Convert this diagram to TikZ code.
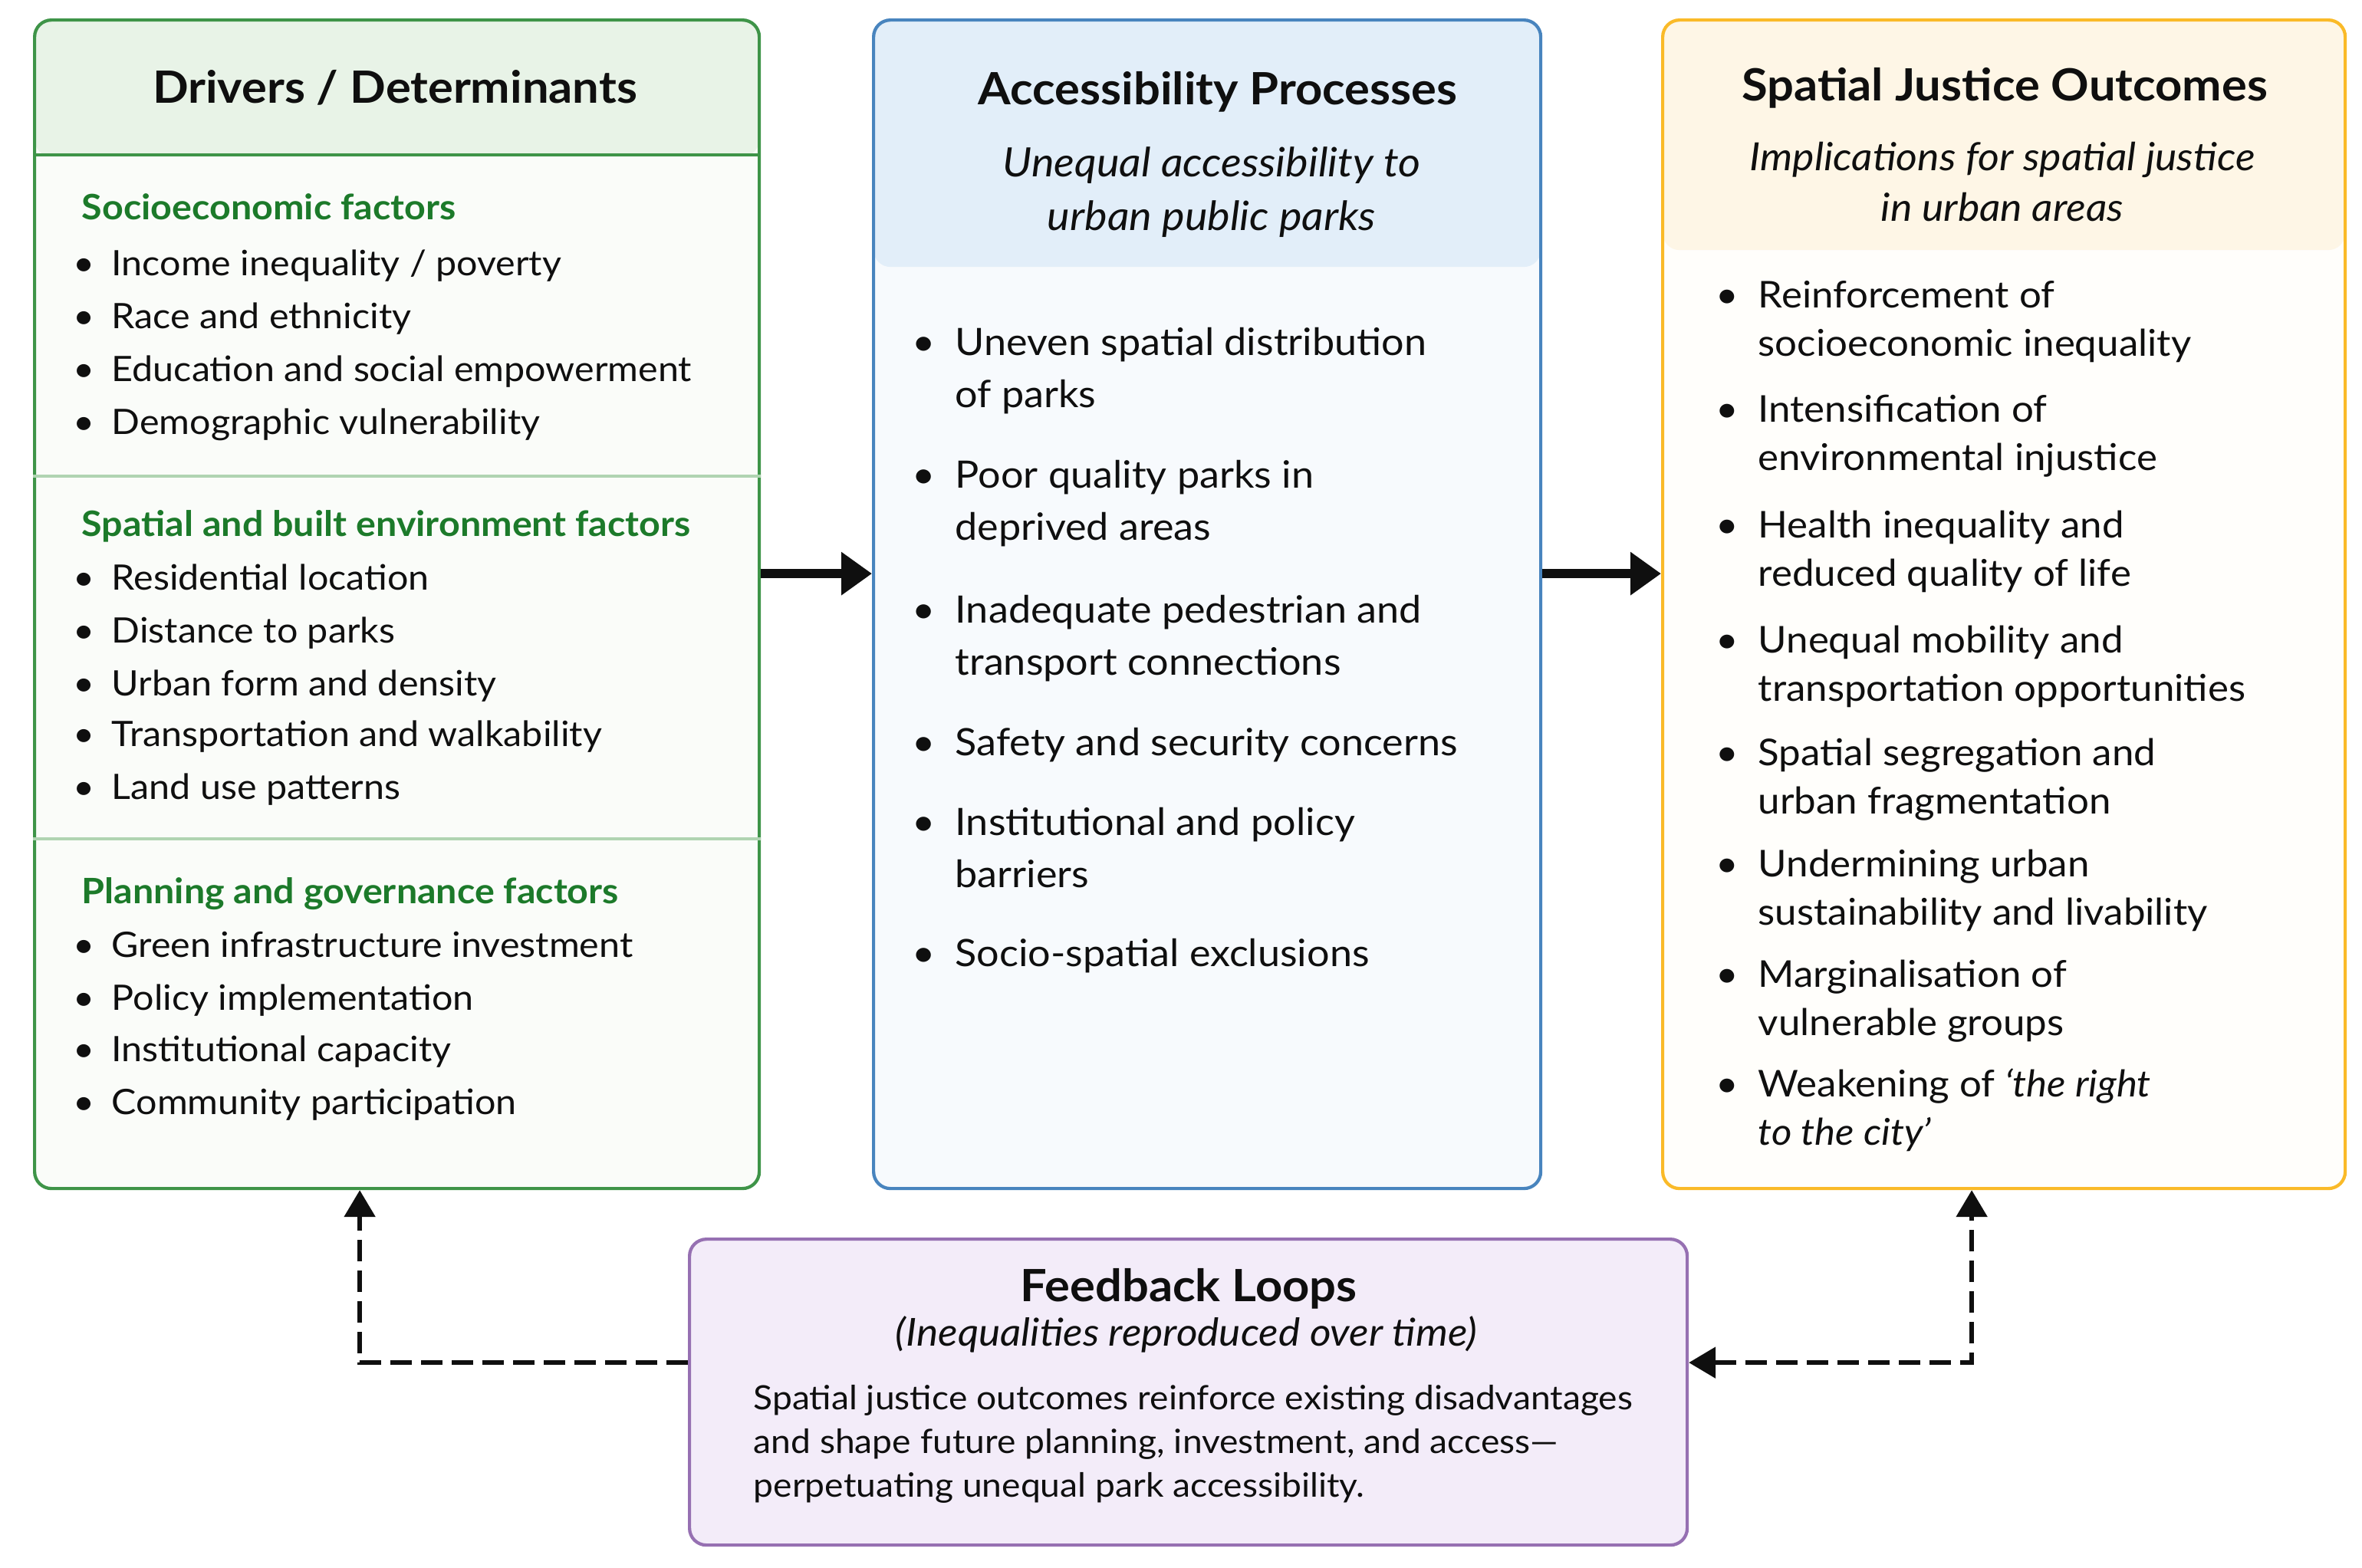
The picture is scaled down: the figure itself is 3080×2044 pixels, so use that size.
\documentclass[tikz,border=0pt]{standalone}
\usepackage{fontspec}
\setmainfont{Lato}[FakeStretch=1.06]
\usetikzlibrary{positioning,arrows.meta}

\definecolor{grnLine}{RGB}{62,148,72}
\definecolor{grnHd}{RGB}{232,243,231}
\definecolor{grnBody}{RGB}{250,252,249}
\definecolor{grnSep}{RGB}{176,212,178}
\definecolor{grnTxt}{RGB}{28,122,42}
\definecolor{bluLine}{RGB}{72,132,190}
\definecolor{bluHd}{RGB}{226,238,249}
\definecolor{bluBody}{RGB}{247,250,253}
\definecolor{orgLine}{RGB}{250,186,40}
\definecolor{orgHd}{RGB}{254,246,230}
\definecolor{orgBody}{RGB}{255,254,251}
\definecolor{purLine}{RGB}{150,112,178}
\definecolor{purFill}{RGB}{243,236,249}
\definecolor{ink}{RGB}{15,15,15}

\begin{document}
\begin{tikzpicture}[
  x=0.1mm, y=-0.1mm,
  box/.style  = {draw, line width=1.2pt, rounded corners=2.2mm, anchor=north west, inner sep=0pt},
  band/.style 2 args = {path picture={\fill[#1] (path picture bounding box.north west)
                        rectangle ([yshift=-#2]path picture bounding box.north east);}},
  ttl/.style  = {font=\fontsize{16.5}{19}\selectfont\bfseries, text=ink, anchor=base, inner sep=0pt},
  sub/.style  = {font=\fontsize{15}{20}\selectfont\itshape, text=ink, anchor=base, inner sep=0pt},
  sec/.style  = {font=\fontsize{13}{15}\selectfont\bfseries, text=grnTxt, anchor=base west, inner sep=0pt},
  itm/.style  = {font=\fontsize{13}{18}\selectfont, text=ink, anchor=base west, inner sep=0pt},
  mitm/.style = {font=\fontsize{14}{19.6}\selectfont, text=ink, anchor=base west, inner sep=0pt},
  ritm/.style = {font=\fontsize{13.7}{18}\selectfont, text=ink, anchor=base west, inner sep=0pt},
  flow/.style = {-{Triangle[length=4mm, width=5.4mm]}, line width=3.4pt, ink},
  fb/.style   = {line width=1.6pt, ink, dash pattern=on 2.8mm off 1.2mm},
  fbtip/.tip  = {Triangle[length=3.5mm, width=4mm]}
]
\useasboundingbox (0,0) rectangle (3080,2044);

% ================= Drivers / Determinants =================
\node[box, draw=grnLine, fill=grnBody, band={grnHd}{17.8mm},
      minimum width=94.5mm, minimum height=152.4mm] (L) at (43,24) {};
\draw[grnLine, line width=1.2pt] ([yshift=-17.8mm]L.north west) -- ([yshift=-17.8mm]L.north east);
\draw[grnSep, line width=1pt] ([yshift=-59.7mm]L.north west) -- ([yshift=-59.7mm]L.north east);
\draw[grnSep, line width=1pt] ([yshift=-107mm]L.north west) -- ([yshift=-107mm]L.north east);
\node[ttl] (Lt) at (515,134) {Drivers / Determinants};

\node[sec] (s1) at (106,286) {Socioeconomic factors};
\foreach \y/\t [count=\i] in {359/{Income inequality / poverty}, 428/Race and ethnicity,
    497/Education and social empowerment, 566/Demographic vulnerability}
  \node[itm] (s1i\i) at (145,\y) {\llap{\textbullet\hspace{2.2mm}}\t};

\node[sec] (s2) at (106,699) {Spatial and built environment factors};
\foreach \y/\t [count=\i] in {769/Residential location, 838/Distance to parks,
    907/Urban form and density, 973/Transportation and walkability, 1042/Land use patterns}
  \node[itm] (s2i\i) at (145,\y) {\llap{\textbullet\hspace{2.2mm}}\t};

\node[sec] (s3) at (106,1178) {Planning and governance factors};
\foreach \y/\t [count=\i] in {1248/Green infrastructure investment, 1317/Policy implementation,
    1384/Institutional capacity, 1453/Community participation}
  \node[itm] (s3i\i) at (145,\y) {\llap{\textbullet\hspace{2.2mm}}\t};

% ================= Accessibility Processes =================
\node[box, draw=bluLine, fill=bluBody, band={bluHd}{32.2mm},
      minimum width=87mm, minimum height=152.4mm] (M) at (1137,24) {};
\node[ttl] (Mt) at (1588,136) {Accessibility Processes};
\node[sub] (Ms) at (1580,230) {\begin{tabular}[t]{@{}c@{}}Unequal accessibility to\\urban public parks\end{tabular}};
\foreach \y/\a/\b [count=\i] in {463/Uneven spatial distribution/of parks,
    636/Poor quality parks in/deprived areas,
    812/Inadequate pedestrian and/transport connections,
    985/Safety and security concerns/,
    1089/Institutional and policy/barriers,
    1260/Socio-spatial exclusions/}
  \node[mitm] (m\i) at (1245,\y) {\llap{\textbullet\hspace{2.6mm}}\begin{tabular}[t]{@{}l@{}}\a\\\b\end{tabular}};

% ================= Spatial Justice Outcomes =================
\node[box, draw=orgLine, fill=orgBody, band={orgHd}{30mm},
      minimum width=89mm, minimum height=152.4mm] (R) at (2166,24) {};
\node[ttl] (Rt) at (2614,131) {Spatial Justice Outcomes};
\node[sub, font=\fontsize{14.4}{19}\selectfont\itshape] (Rs) at (2611,222) {\begin{tabular}[t]{@{}c@{}}Implications for spatial justice\\in urban areas\end{tabular}};
\foreach \y/\a/\b [count=\i] in {401/Reinforcement of/socioeconomic inequality,
    550/Intensification of/environmental injustice,
    701/Health inequality and/reduced quality of life,
    851/Unequal mobility and/transportation opportunities,
    998/Spatial segregation and/urban fragmentation,
    1143/Undermining urban/sustainability and livability,
    1287/Marginalisation of/vulnerable groups,
    1430/{Weakening of \textit{‘the right}}/{\textit{to the city’}}}
  \node[ritm] (r\i) at (2292,\y) {\llap{\textbullet\hspace{2.6mm}}\begin{tabular}[t]{@{}l@{}}\a\\\b\end{tabular}};

% ================= Feedback Loops =================
\node[box, draw=purLine, fill=purFill, minimum width=130.1mm, minimum height=39.9mm] (F) at (897,1614) {};
\node[ttl] (Ft) at (1550,1697) {Feedback Loops};
\node[sub, font=\fontsize{14.3}{18}\selectfont\itshape] (Fs) at (1547,1755) {(Inequalities reproduced over time)};
\node[itm, font=\fontsize{12.4}{16.3}\selectfont] (Fb) at (982,1838) {\begin{tabular}[t]{@{}l@{}}
  Spatial justice outcomes reinforce existing disadvantages\\
  and shape future planning, investment, and access—\\
  perpetuating unequal park accessibility.\end{tabular}};

% ================= connectors =================
\draw[flow] ([yshift=4mm]L.east) -- ([yshift=4mm]M.west);
\draw[flow] ([yshift=4mm]M.east) -- ([yshift=4mm]R.west);
\draw[fb, -fbtip] ([yshift=3.85mm]F.west) -| ([xshift=-4.85mm]L.south);
\draw[fb, fbtip-fbtip] ([yshift=3.85mm]F.east) -| ([xshift=-4.2mm]R.south);

\end{tikzpicture}
\end{document}
